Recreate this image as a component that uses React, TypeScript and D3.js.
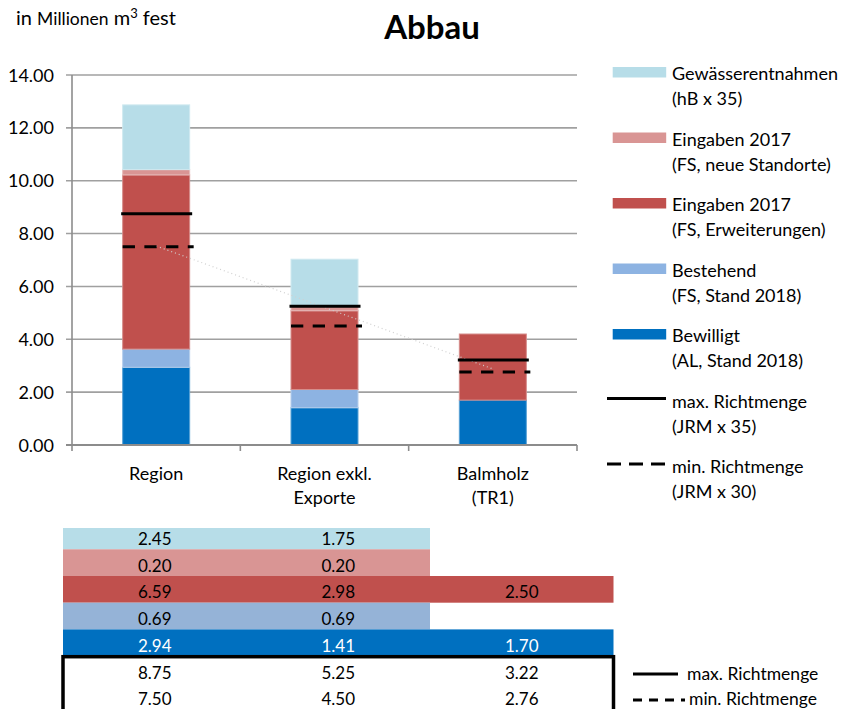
import * as d3 from "d3";

// categories (x axis)
const categories = ["Region", "Region exkl. Exporte", "Balmholz (TR1)"];
const categoryLines = [["Region"], ["Region exkl.", "Exporte"], ["Balmholz", "(TR1)"]];

// stacked series, bottom to top
const bewilligt = [2.94, 1.41, 1.7];
const bestehend = [0.69, 0.69, null];
const eingabenErw = [6.59, 2.98, 2.5];
const eingabenNeu = [0.2, 0.2, null];
const gewaesser = [2.45, 1.75, null];

// reference lines
const maxRichtmenge = [8.75, 5.25, 3.22];
const minRichtmenge = [7.5, 4.5, 2.76];
// faint trend line (Region -> Balmholz)
const trendValues = [7.53, 2.88];

const yTicks = [0, 2, 4, 6, 8, 10, 12, 14];

const seriesNames = ["Bewilligt", "Bestehend", "Eingaben 2017", "Eingaben 2017", "Gewässerentnahmen"];
const seriesSubs = ["(AL, Stand 2018)", "(FS, Stand 2018)", "(FS, Erweiterungen)", "(FS, neue Standorte)", "(hB x 35)"];
const seriesValues = [bewilligt, bestehend, eingabenErw, eingabenNeu, gewaesser];
const barColors = ["#0070c0", "#8db3e2", "#c0504d", "#d99594", "#b7dde8"];
const tableColors = ["#0070c0", "#95b3d7", "#c0504d", "#d99594", "#b7dde8"];

const FONT = "Lato, 'Open Sans', sans-serif";

export default function App() {
  const W = 855,
    H = 709;
  const y = d3.scaleLinear().domain([0, 14]).range([445, 75]);
  const x = d3.scaleBand().domain(categories).range([72, 577]).padding(0);
  const barW = 67;
  const fmt = d3.format(".2f");

  // stacking
  const rows = categories.map((c, i) => {
    const o: any = { cat: c };
    seriesValues.forEach((s, k) => (o["s" + k] = s[i] ?? 0));
    return o;
  });
  const keys = seriesValues.map((_, k) => "s" + k);
  const stacked = d3.stack<any>().keys(keys)(rows);

  const cx = (c: string) => (x(c) as number) + x.bandwidth() / 2;

  // legend
  const legX = 612.7,
    legTextX = 672,
    legBase0 = 80,
    legPitch = 65.5;
  const legendOrder = [4, 3, 2, 1, 0];

  // table
  const colW = 183.5,
    tblX = 63,
    rowH = 26.7,
    tblTop = 522.6;
  const tableOrder = [4, 3, 2, 1, 0];

  const trendLine = d3
    .line<number>()
    .x((_, i) => cx(categories[i === 0 ? 0 : 2]))
    .y((d) => y(d));

  return (
    <svg
      width={W}
      height={H}
      style={{ position: "absolute", left: 0, top: 0, background: "#fff" }}
      fontFamily={FONT}
    >
      <defs>
        <clipPath id="tblclip">
          <rect x={0} y={528} width={W} height={H - 528} />
        </clipPath>
      </defs>

      {/* unit label */}
      <text x={16} y={25} fontSize={20} fill="#000">
        in <tspan fontSize={17.5}>Millionen</tspan> m<tspan fontSize={13} dy={-7}>3</tspan>
        <tspan dy={7}> fest</tspan>
      </text>

      {/* title */}
      <text x={432} y={39} fontSize={33} fontWeight="bold" textAnchor="middle">
        Abbau
      </text>

      {/* gridlines + y ticks */}
      {yTicks.map((t) => (
        <g key={t}>
          <line x1={66} x2={577} y1={y(t)} y2={y(t)} stroke="#a0a0a0" strokeWidth={1.6} />
          <text x={54} y={y(t) + 6.5} fontSize={18} textAnchor="end" fill="#000">
            {fmt(t)}
          </text>
        </g>
      ))}
      <line x1={72} x2={72} y1={75} y2={445} stroke="#8c8c8c" strokeWidth={1.6} />
      {/* x ticks */}
      {[0, 1, 2, 3].map((i) => (
        <line
          key={i}
          x1={72 + i * x.bandwidth()}
          x2={72 + i * x.bandwidth()}
          y1={445}
          y2={451}
          stroke="#8c8c8c"
          strokeWidth={1.6}
        />
      ))}

      {/* bars */}
      {stacked.map((layer, k) =>
        layer.map((d, i) => {
          if (seriesValues[k][i] == null) return null;
          const c = categories[i];
          const col = barColors[k];
          return (
            <rect
              key={k + "-" + i}
              x={cx(c) - barW / 2}
              y={y(d[1])}
              width={barW}
              height={Math.max(0, y(d[0]) - y(d[1]))}
              fill={col}
              stroke={d3.interpolateRgb(col, "#fff")(0.35)}
              strokeWidth={1}
            />
          );
        })
      )}
      {/* baseline axis */}
      <line x1={66} x2={577} y1={445} y2={445} stroke="#8c8c8c" strokeWidth={1.8} />

      {/* trend */}
      <path
        d={trendLine(trendValues) as string}
        fill="none"
        stroke="#d0d0d0"
        strokeWidth={1.2}
        strokeDasharray="1,3"
      />

      {/* richtmenge lines */}
      {categories.map((c, i) => (
        <g key={"rm" + c}>
          <line
            x1={cx(c) - barW / 2 - 1.5}
            x2={cx(c) + barW / 2 + 2.5}
            y1={y(maxRichtmenge[i])}
            y2={y(maxRichtmenge[i])}
            stroke="#000"
            strokeWidth={3}
          />
          <line
            x1={cx(c) - barW / 2}
            x2={cx(c) + barW / 2 + 4}
            y1={y(minRichtmenge[i])}
            y2={y(minRichtmenge[i])}
            stroke="#000"
            strokeWidth={3}
            strokeDasharray="12.3,9.4"
          />
        </g>
      ))}

      {/* category labels */}
      {categories.map((c, i) => (
        <text key={"cl" + c} x={cx(c)} y={480} fontSize={18} textAnchor="middle">
          {categoryLines[i].map((l, j) => (
            <tspan key={j} x={cx(c)} dy={j === 0 ? 0 : 24}>
              {l}
            </tspan>
          ))}
        </text>
      ))}

      {/* legend */}
      {legendOrder.map((k, j) => {
        const base = legBase0 + j * legPitch;
        return (
          <g key={"lg" + k}>
            <rect x={legX} y={base - 13} width={53.5} height={10.5} fill={barColors[k]} />
            <text x={legTextX} y={base} fontSize={18}>
              {seriesNames[k]}
            </text>
            <text x={legTextX} y={base + 25} fontSize={18}>
              {seriesSubs[k]}
            </text>
          </g>
        );
      })}
      {[
        { name: "max. Richtmenge", sub: "(JRM x 35)", dash: "" },
        { name: "min. Richtmenge", sub: "(JRM x 30)", dash: "14,8" },
      ].map((e, j) => {
        const base = legBase0 + (5 + j) * legPitch;
        return (
          <g key={"ll" + j}>
            <line
              x1={607}
              x2={666}
              y1={base - 9}
              y2={base - 9}
              stroke="#000"
              strokeWidth={3}
              strokeDasharray={e.dash || undefined}
            />
            <text x={legTextX} y={base} fontSize={18}>
              {e.name}
            </text>
            <text x={legTextX} y={base + 25} fontSize={18}>
              {e.sub}
            </text>
          </g>
        );
      })}

      {/* data table */}
      <g clipPath="url(#tblclip)">
        {tableOrder.map((k, r) => {
          const vals = seriesValues[k];
          const n = vals.filter((v) => v != null).length;
          const top = tblTop + r * rowH;
          return (
            <g key={"tr" + k}>
              <rect x={tblX} y={top} width={n * colW} height={rowH} fill={tableColors[k]} />
              {vals.map((v, ci) =>
                v == null ? null : (
                  <text
                    key={ci}
                    x={tblX + colW * (ci + 0.5)}
                    y={top + rowH - 4.3}
                    fontSize={17}
                    textAnchor="middle"
                    fill={k === 0 ? "#fff" : "#000"}
                  >
                    {fmt(v)}
                  </text>
                )
              )}
            </g>
          );
        })}
        {[maxRichtmenge, minRichtmenge].map((vals, r) =>
          vals.map((v, ci) => (
            <text
              key={"rt" + r + ci}
              x={tblX + colW * (ci + 0.5)}
              y={tblTop + (5 + r) * rowH + rowH - 4.3}
              fontSize={17}
              textAnchor="middle"
            >
              {fmt(v)}
            </text>
          ))
        )}
        <rect
          x={tblX}
          y={656.7}
          width={colW * 3}
          height={80}
          fill="none"
          stroke="#000"
          strokeWidth={3.5}
        />
      </g>

      {/* table legend */}
      <line x1={633} x2={678} y1={674} y2={674} stroke="#000" strokeWidth={3} />
      <text x={687} y={680} fontSize={17.5}>
        max. Richtmenge
      </text>
      <line x1={633} x2={685} y1={700} y2={700} stroke="#000" strokeWidth={3} strokeDasharray="9,7" />
      <text x={689} y={705} fontSize={17.5}>
        min. Richtmenge
      </text>
    </svg>
  );
}
